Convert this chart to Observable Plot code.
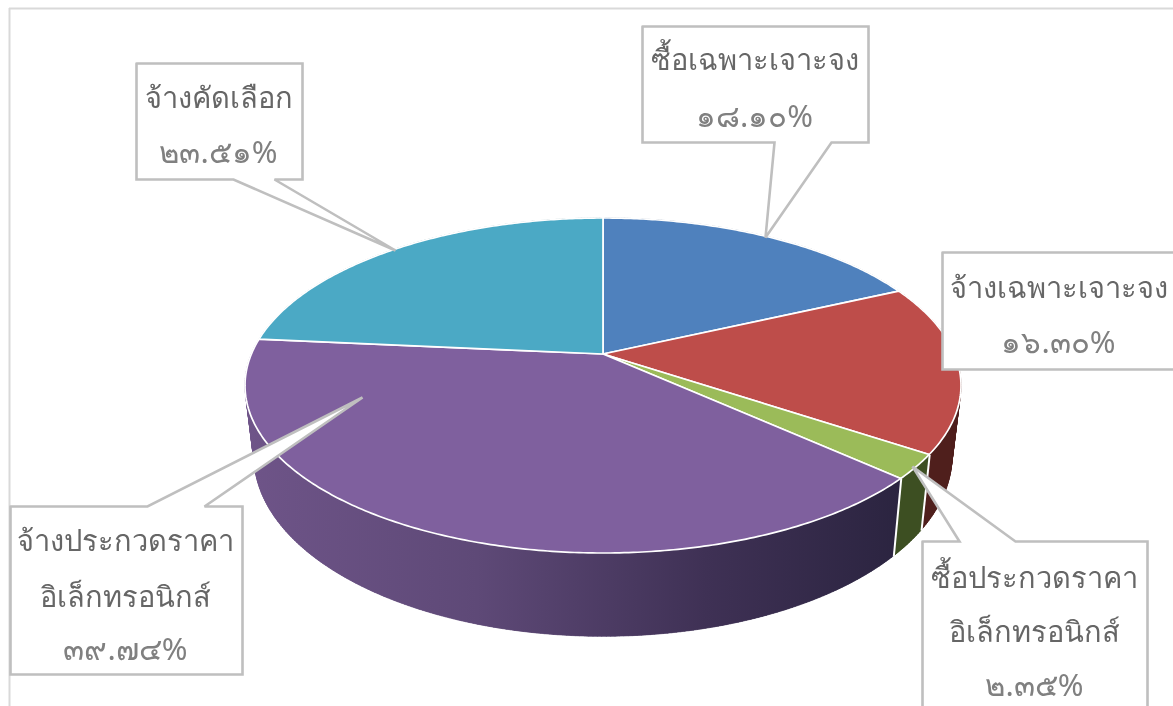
<!DOCTYPE html>
<html lang="th">
<head>
<meta charset="utf-8">
<script src="https://cdn.jsdelivr.net/npm/d3@7"></script>
<script src="https://cdn.jsdelivr.net/npm/@observablehq/plot@0.6"></script>
<style>
html,body{margin:0;padding:0;background:#fff;overflow:hidden}
svg{display:block;filter:blur(0.45px)}
</style>
</head>
<body>
<div id="chart"></div>
<script>
// ---- data ----
const categories = ["ซื้อเฉพาะเจาะจง","จ้างเฉพาะเจาะจง","ซื้อประกวดราคาอิเล็กทรอนิกส์","จ้างประกวดราคาอิเล็กทรอนิกส์","จ้างคัดเลือก"];
const values = [18.10,16.30,2.35,39.74,23.51];
const percentLabels = ["๑๘.๑๐%","๑๖.๓๐%","๒.๓๕%","๓๙.๗๔%","๒๓.๕๑%"];
const labelLines = [["ซื้อเฉพาะเจาะจง"],["จ้างเฉพาะเจาะจง"],["ซื้อประกวดราคา","อิเล็กทรอนิกส์"],["จ้างประกวดราคา","อิเล็กทรอนิกส์"],["จ้างคัดเลือก"]];

// ---- styles ----
const topColors = ["#4F81BD","#BE4D4A","#9BBB59","#7F609E","#4BA9C5"];
const wallFills = ["#2a4568","#4f1f1c","#3d4f22","url(#purpleWall)","#275c6b"];

// ---- layout (pie projection and callout frames, in image pixels) ----
const pie = {cx:603, topY:354, botY:422, R:351.6, A:161.6, B:174, c:-0.188, shrink:0.975};
const calloutFrames = [
  {box:[642,868,26,142], ptr:[[831,142],[765,237],[774,142]], side:"b", tx:754, ty:[60,117]},
  {box:[942,1185,252,369], ptr:null, tx:1058, ty:[288,343]},
  {box:[922,1147,541,730], ptr:[[1015,541],[912,466],[959,541]], side:"t", tx:1034, ty:[578,632,686]},
  {box:[10,242,506,674], ptr:[[204,506],[362,397],[147,506]], side:"t", tx:125, ty:[541,597,650]},
  {box:[136,302,63,179], ptr:[[274,179],[395,250],[233,179]], side:"b", tx:218, ty:[98,153]}
];

// ---- geometry derived from the values ----
const rad = p => p/100*2*Math.PI;
function topPoint(t){const u=Math.sin(t),v=-Math.cos(t),w=1+pie.c*v;return {x:pie.cx+pie.R*u/w,y:pie.topY+pie.A*v/w};}
function botPoint(t){const u=Math.sin(t),v=-Math.cos(t),w=1+pie.c*v;return {x:pie.cx+pie.shrink*pie.R*u/w,y:pie.botY+pie.B*v/w};}
const total = d3.sum(values);
let acc = 0;
const slices = categories.map((name,i)=>{
  const start=acc/total*100; acc+=values[i]; const end=acc/total*100;
  const pts=[]; const n=Math.max(8,Math.ceil((end-start)*6));
  for(let k=0;k<=n;k++){const t=rad(start+(end-start)*k/n);const a=topPoint(t),b=botPoint(t);
    pts.push({name,x:a.x,y:a.y,bx:b.x,by:b.y,ax:pie.cx,ay:pie.topY});}
  // narrow quads give the wall its outline along the tangent between the two rims
  const quads=d3.pairs(pts).flatMap(([p,q],k)=>[{...p,quad:k},{...q,quad:k}]);
  return {name,i,start,end,pts,quads};
});
const boundaries = [slices[2].start,slices[2].end].map(p=>{const t=rad(p);const a=topPoint(t),b=botPoint(t);return {x1:a.x,y1:a.y,x2:b.x,y2:b.y};});

const outline = f => {
  const [l,r,t,b]=f.box;
  const pts=[[l,t]];
  if(f.side==="t") pts.push(...f.ptr.slice().reverse());
  pts.push([r,t],[r,b]);
  if(f.side==="b") pts.push(...f.ptr);
  pts.push([l,b],[l,t]);
  return pts.map(([x,y])=>({x,y}));
};
const nameRows = calloutFrames.flatMap((f,i)=>labelLines[i].map((text,j)=>({text,x:f.tx,y:f.ty[j]})));
const percentRows = calloutFrames.map((f,i)=>({text:percentLabels[i],x:f.tx,y:f.ty[f.ty.length-1]}));

const gradientDefs = () => {
  const ns="http://www.w3.org/2000/svg";
  const g=document.createElementNS(ns,"g");
  g.innerHTML=`<defs><linearGradient id="purpleWall" gradientUnits="userSpaceOnUse" x1="250" y1="0" x2="900" y2="0">
  <stop offset="0" stop-color="#6E5488"/><stop offset="0.35" stop-color="#5E4977"/><stop offset="0.7" stop-color="#3F3155"/><stop offset="1" stop-color="#2B2440"/></linearGradient></defs>`;
  return g;
};

const fontFamily = '"Noto Sans","DejaVu Sans",sans-serif';
const plot = Plot.plot({
  width:1173, height:706, margin:0,
  x:{domain:[0,1173],range:[0,1173],axis:null},
  y:{domain:[0,706],range:[0,706],axis:null},
  style:{background:"#fff",fontFamily},
  marks:[
    gradientDefs,
    Plot.ruleX([9],{y1:8,y2:706,stroke:"#d9d9d9",strokeWidth:2}),
    Plot.ruleY([8],{x1:9,x2:1173,stroke:"#d9d9d9",strokeWidth:2}),
    ...slices.map(s=>Plot.area(s.quads,{x1:"x",y1:"y",x2:"bx",y2:"by",z:"quad",fill:wallFills[s.i],stroke:wallFills[s.i],strokeWidth:0.6})),
    ...slices.map(s=>Plot.area(s.pts,{x1:"x",y1:"y",x2:"bx",y2:"by",fill:wallFills[s.i]})),
    Plot.link(boundaries,{x1:"x1",y1:"y1",x2:"x2",y2:"y2",stroke:"#fff",strokeWidth:2}),
    ...slices.map(s=>Plot.area(s.pts,{x1:"ax",y1:"ay",x2:"x",y2:"y",fill:topColors[s.i],stroke:"#fff",strokeWidth:1.7,strokeLinejoin:"round"})),
    ...calloutFrames.map(f=>Plot.line(outline(f),{x:"x",y:"y",fill:"#fff",stroke:"#bfbfbf",strokeWidth:2.6,strokeLinejoin:"miter",strokeMiterlimit:3,curve:"linear"})),
    Plot.text(nameRows,{x:"x",y:"y",text:"text",fontSize:29,fill:"#666666",lineAnchor:"middle",textAnchor:"middle"}),
    Plot.text(percentRows,{x:"x",y:"y",text:"text",fontSize:31,fill:"#808080",lineAnchor:"middle",textAnchor:"middle"})
  ]
});
document.getElementById("chart").append(plot);
</script>
</body>
</html>
